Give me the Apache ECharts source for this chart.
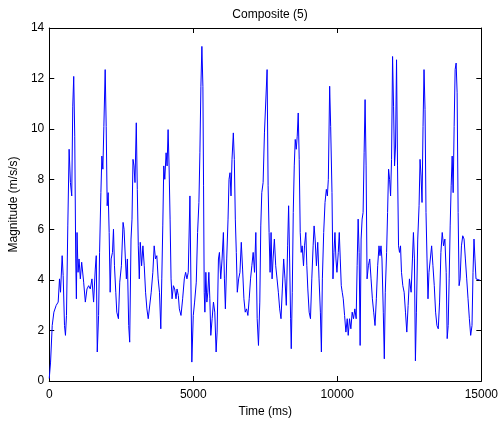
<!DOCTYPE html>
<html>
<head>
<meta charset="utf-8">
<script src="https://cdn.jsdelivr.net/npm/echarts@6/dist/echarts.min.js"></script>
<style>html,body{margin:0;padding:0;background:#fff}#c{width:501px;height:423px}</style>
</head>
<body>
<div id="c"></div>
<script>
var titleText = "Composite (5)";
var xTicks = [0, 5000, 10000, 15000];
var yTicks = [0, 2, 4, 6, 8, 10, 12, 14];
var timeMs = [0,46,103,161,241,310,356,391,448,483,529,563,598,644,690,735,781,816,850,885,919,942,965,1000,1034,1080,1126,1161,1195,1253,1310,1368,1425,1483,1540,1598,1632,1667,1713,1747,1793,1827,1862,1896,1942,1977,2011,2046,2080,2115,2149,2195,2230,2264,2310,2345,2402,2448,
2505,2563,2597,2643,2678,2712,2758,2793,2839,2873,2908,2942,2977,3022,3057,3091,3126,3160,3206,3252,3298,3344,3390,3436,3482,3540,3597,3643,3689,3735,3781,3827,3873,3907,3942,3976,4011,4057,4091,4126,4160,4195,4229,4264,4310,4355,4401,4436,4482,4516,4574,4631,4689,4735,4780,4826,4884,4950,
5000,5046,5104,5150,5196,5230,5265,5299,5334,5357,5380,5403,5437,5472,5506,5541,5575,5609,5655,5701,5747,5793,5828,5874,5908,5954,6000,6046,6081,6115,6161,6207,6241,6276,6310,6345,6391,6425,6460,6494,6529,6575,6621,6667,6712,6758,6804,6850,6896,6942,6988,7034,7080,7126,7172,7218,7264,7310,7344,7379,7425,7471,
7563,7598,7632,7667,7701,7736,7770,7816,7862,7908,7954,8000,8046,8092,8138,8184,8230,8276,8310,8345,8379,8402,8437,8471,8506,8540,8575,8609,8644,8678,8713,8747,8781,8827,8862,8908,8942,8977,9023,9069,9115,9161,9195,9230,9276,9321,9367,9413,9448,9482,9528,9574,9620,9655,9689,9735,9770,9816,9850,9884,9919,9953,9988,
10034,10069,10103,10138,10172,10207,10253,10299,10345,10379,10425,10471,10517,10563,10609,10655,10689,10724,10758,10793,10827,10862,10896,10931,10965,11000,11034,11080,11126,11172,11218,11264,11310,11356,11402,11448,11482,11517,11551,11597,11632,11666,11712,11746,11781,11815,11850,11884,11919,11953,11988,12022,12057,12091,12126,12160,12195,12229,12275,12321,12367,12413,12459,12505,
12563,12609,12643,12678,12712,12747,12793,12839,12873,12908,12942,12977,13011,13046,13080,13115,13149,13183,13229,13275,13321,13367,13413,13459,13505,13551,13597,13643,13689,13735,13781,13815,13850,13884,13919,13953,13988,14022,14057,14091,14126,14160,14195,14229,14264,14310,14355,14401,14447,14493,14539,14585,14631,14677,14712,14746,14780,14815,14861,14950];
var magnitude = [0.1,0.75,2.2,2.73,3.0,3.13,4.05,3.52,4.97,4.18,2.2,1.81,2.6,6.15,9.19,7.87,7.34,10.9,12.08,9.71,4.84,3.26,5.89,4.31,4.84,4.05,4.71,4.71,3.92,3.13,3.65,3.78,3.65,4.05,3.13,4.44,4.97,1.15,2.6,5.1,7.47,8.92,8.4,10.1,12.35,10.1,6.95,7.47,5.89,3.52,4.84,5.1,6.02,4.57,3.52,2.73,2.47,3.92,
4.57,6.29,6.02,4.84,4.05,4.84,2.2,1.54,5.63,6.42,8.79,8.53,7.87,10.24,7.6,5.36,4.05,5.5,4.57,5.36,4.57,3.52,2.86,2.47,2.47,3.52,4.31,5.36,4.84,4.97,4.05,3.52,2.07,4.05,6.15,8.53,8.0,9.05,8.53,9.97,8.53,6.42,4.05,3.26,3.78,3.65,3.26,3.65,3.39,2.86,2.6,3.26,4.05,4.31,4.05,4.31,7.34,0.75,
2.6,3.13,3.92,5.89,7.08,9.05,11.69,13.27,11.69,7.74,3.52,2.73,4.31,3.13,3.52,4.31,3.26,1.81,2.47,3.13,2.73,1.15,1.94,4.84,5.1,4.05,4.84,5.89,4.05,2.86,4.84,6.42,8.0,8.26,7.34,8.79,9.84,8.79,6.42,5.1,3.52,4.05,4.31,5.5,4.44,3.26,2.73,2.86,2.6,3.26,4.05,4.57,5.1,4.31,5.89,2.47,1.41,3.13,6.15,7.47,7.87,9.84,
12.35,7.74,5.89,4.31,5.89,4.05,4.84,5.63,4.57,4.05,3.52,2.86,2.47,3.65,4.84,4.05,3.0,5.36,6.95,4.84,2.47,1.28,3.52,6.68,8.53,9.58,9.19,9.71,10.63,8.79,5.89,5.1,5.36,4.57,5.36,5.89,4.57,3.65,2.73,2.47,4.05,5.36,6.15,5.63,4.57,5.5,4.05,2.73,1.15,4.05,5.89,7.08,7.6,7.34,8.0,11.69,10.1,7.47,4.05,5.1,5.89,4.84,4.31,
5.1,5.89,4.84,3.78,3.52,3.26,2.6,1.94,2.47,1.81,2.47,2.07,2.73,2.47,2.86,2.47,4.57,6.42,5.1,1.41,5.63,6.42,6.68,9.05,11.16,8.53,4.05,4.57,4.84,4.05,3.26,2.73,2.2,3.26,4.57,5.36,4.97,5.36,4.84,2.73,0.88,3.52,5.1,6.68,8.4,8.0,7.34,8.79,12.87,10.9,8.53,9.32,12.74,8.53,5.36,5.1,5.36,4.31,3.78,3.52,2.73,1.94,3.0,4.05,
3.52,4.84,5.89,4.84,0.8,2.73,5.63,6.95,8.79,8.13,7.08,10.1,12.35,10.77,6.68,4.84,3.26,4.31,4.31,5.36,4.57,3.78,2.73,2.2,2.07,3.13,5.1,5.89,5.36,5.63,4.31,1.68,2.2,4.05,6.15,7.74,8.92,7.47,10.1,12.35,12.61,11.43,6.68,3.78,4.05,5.36,5.76,5.63,4.84,4.05,3.26,2.47,1.81,2.2,4.31,5.63,4.84,4.05,4.05,4.0];

var pts = timeMs.map(function (t, i) { return [t, magnitude[i]]; });
var font = "'Liberation Sans', Arial, Helvetica, sans-serif";
var chart = echarts.init(document.getElementById('c'), null, {renderer: 'canvas'});
function axisCommon() {
  return {
    axisLine: {show: true, onZero: false, lineStyle: {color: '#000', width: 1}},
    axisTick: {show: true, inside: true, length: 5, lineStyle: {color: '#000'}},
    splitLine: {show: false}
  };
}
function plain(v) { return String(v); }
chart.setOption({
  animation: false,
  backgroundColor: '#fff',
  title: {text: titleText, left: 265, textAlign: 'center', top: 4,
    textStyle: {fontSize: 12, fontWeight: 'normal', color: '#000', fontFamily: font}},
  grid: {left: 48, right: 18, top: 28, bottom: 41, containLabel: false},
  xAxis: [
    Object.assign({type: 'value', min: xTicks[0], max: xTicks[xTicks.length - 1], interval: xTicks[1] - xTicks[0],
      position: 'bottom', name: 'Time (ms)', nameLocation: 'middle', nameGap: 25,
      nameTextStyle: {fontSize: 12, color: '#000', fontFamily: font},
      axisLabel: {fontSize: 12, color: '#000', margin: 8, fontFamily: font, formatter: plain}}, axisCommon()),
    Object.assign({type: 'value', min: xTicks[0], max: xTicks[xTicks.length - 1], interval: xTicks[1] - xTicks[0],
      position: 'top', axisLabel: {show: false}}, axisCommon())
  ],
  yAxis: [
    Object.assign({type: 'value', min: yTicks[0], max: yTicks[yTicks.length - 1], interval: yTicks[1] - yTicks[0],
      position: 'left', name: 'Magnitude (m/s/s)', nameLocation: 'middle', nameGap: 22,
      nameTextStyle: {fontSize: 12, color: '#000', fontFamily: font},
      axisLabel: {fontSize: 12, color: '#000', margin: 5, fontFamily: font, formatter: plain}}, axisCommon()),
    Object.assign({type: 'value', min: yTicks[0], max: yTicks[yTicks.length - 1], interval: yTicks[1] - yTicks[0],
      position: 'right', axisLabel: {show: false}}, axisCommon())
  ],
  series: [{
    type: 'line', data: pts, xAxisIndex: 0, yAxisIndex: 0,
    showSymbol: false, symbol: 'none',
    lineStyle: {color: '#0000ff', width: 1}, itemStyle: {color: '#0000ff'}
  }]
});
</script>
</body>
</html>
